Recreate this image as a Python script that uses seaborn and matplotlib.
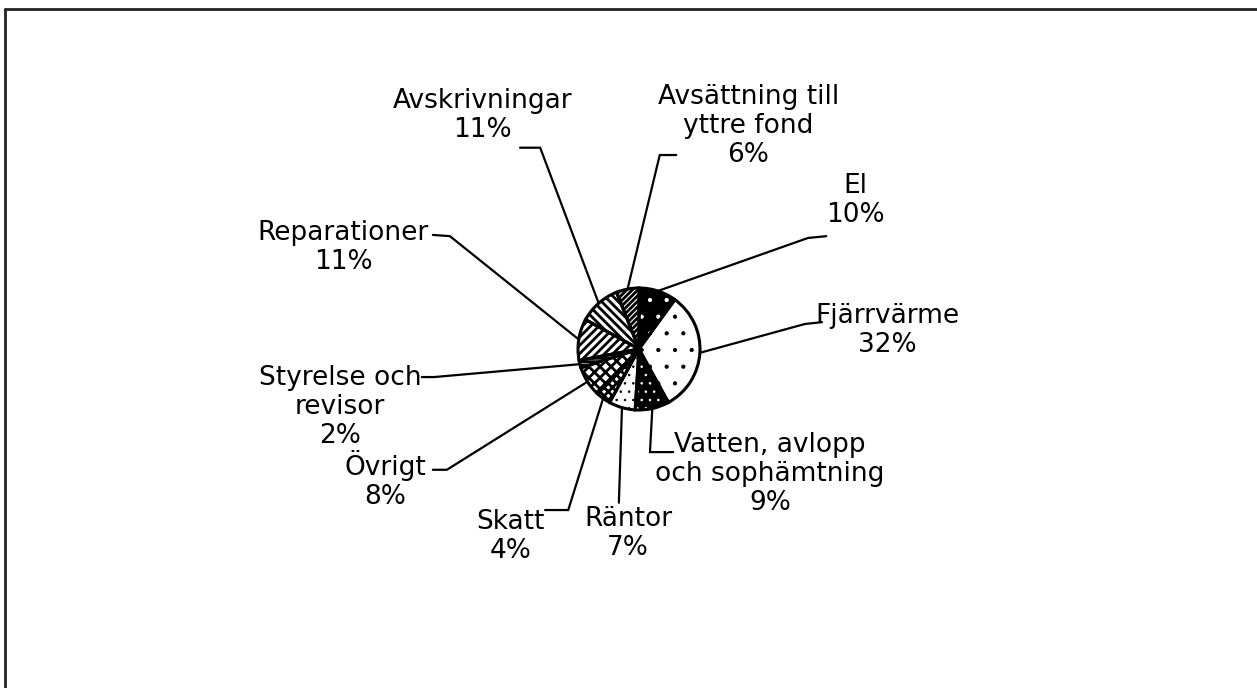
import numpy as np
import seaborn as sns
import matplotlib.pyplot as plt
from matplotlib.lines import Line2D

sns.set_theme(style="white")
plt.rcParams["font.family"] = ["DejaVu Sans"]
plt.rcParams["hatch.linewidth"] = 2.0

# Cost categories, clockwise from 12 o'clock
labels = ["El", "Fjärrvärme", "Vatten, avlopp\noch sophämtning", "Räntor", "Skatt",
          "Övrigt", "Styrelse och\nrevisor", "Reparationer", "Avskrivningar",
          "Avsättning till\nyttre fond"]
shares = [10, 32, 9, 7, 4, 8, 2, 11, 11, 6]

# Black-and-white fill styles per slice
fills = ["black", "white", "black", "white", "white", "white", "white", "white", "white", "white"]
hatches = [".", ".", "..", "..", "xxxx", "xxx", "-----", "////", "\\\\\\\\", "//////"]

# Label layout (pie radius = 1): text centre, leader end, stub end
text_pos = [(3.54, 2.43), (4.07, 0.30), (2.15, -2.05), (-0.18, -3.03), (-2.11, -3.08),
            (-4.16, -2.15), (-4.90, -0.95), (-4.85, 1.66), (-2.56, 3.82), (1.79, 3.66)]
lead_end = [(2.77, 1.82), (2.72, 0.41), (0.18, -1.69), (-0.33, -2.52), (-1.16, -2.64),
            (-3.15, -1.98), (-3.36, -0.46), (-3.10, 1.85), (-1.62, 3.30), (0.34, 3.18)]
stub_end = [(3.07, 1.85), (3.00, 0.44), (0.56, -1.69), (-0.33, -2.52), (-1.54, -2.64),
            (-3.38, -1.98), (-3.56, -0.46), (-3.38, 1.87), (-1.95, 3.30), (0.61, 3.18)]

fig = plt.figure(figsize=(12.57, 6.88), dpi=100)
ax = fig.add_axes([0, 0, 1, 1])

# base fill
wedges, _ = ax.pie(shares, colors=fills, startangle=90, counterclock=False,
                   wedgeprops=dict(linewidth=0))
# hatch layer (edge colour = hatch colour)
hatch_w, _ = ax.pie(shares, startangle=90, counterclock=False,
                    wedgeprops=dict(linewidth=0, facecolor="none"))
for w, h, f in zip(hatch_w, hatches, fills):
    w.set_hatch(h)
    w.set_edgecolor("white" if f == "black" else "black")
    # dots stay small, stripes bold
    if "." in h and hasattr(w, "set_hatch_linewidth"):
        w.set_hatch_linewidth(0.6)
# outlines
ax.pie(shares, startangle=90, counterclock=False,
       wedgeprops=dict(linewidth=2.2, edgecolor="black", facecolor="none"))

for w, lab, pct, tp, le, se in zip(wedges, labels, shares, text_pos, lead_end, stub_end):
    mid = np.deg2rad((w.theta1 + w.theta2) / 2)
    x0, y0 = np.cos(mid), np.sin(mid)
    ax.plot([x0, le[0], se[0]], [y0, le[1], se[1]], color="black", lw=1.6,
            solid_joinstyle="miter")
    ax.text(tp[0], tp[1], f"{lab}\n{pct}%", ha="center", va="center",
            fontsize=19, color="black", linespacing=1.15)

ax.set_xlim(-639 / 61, (1257 - 639) / 61)
ax.set_ylim((349 - 688) / 61, 349 / 61)
ax.set_aspect("equal")
ax.axis("off")

# scanned frame: top and left borders
fig.add_artist(Line2D([5 / 1257, 1], [1 - 9 / 688, 1 - 9 / 688], color="#222222", lw=2))
fig.add_artist(Line2D([5 / 1257, 5 / 1257], [0, 1 - 9 / 688], color="#222222", lw=2))

fig.savefig("out.png", dpi=100, facecolor="white")
